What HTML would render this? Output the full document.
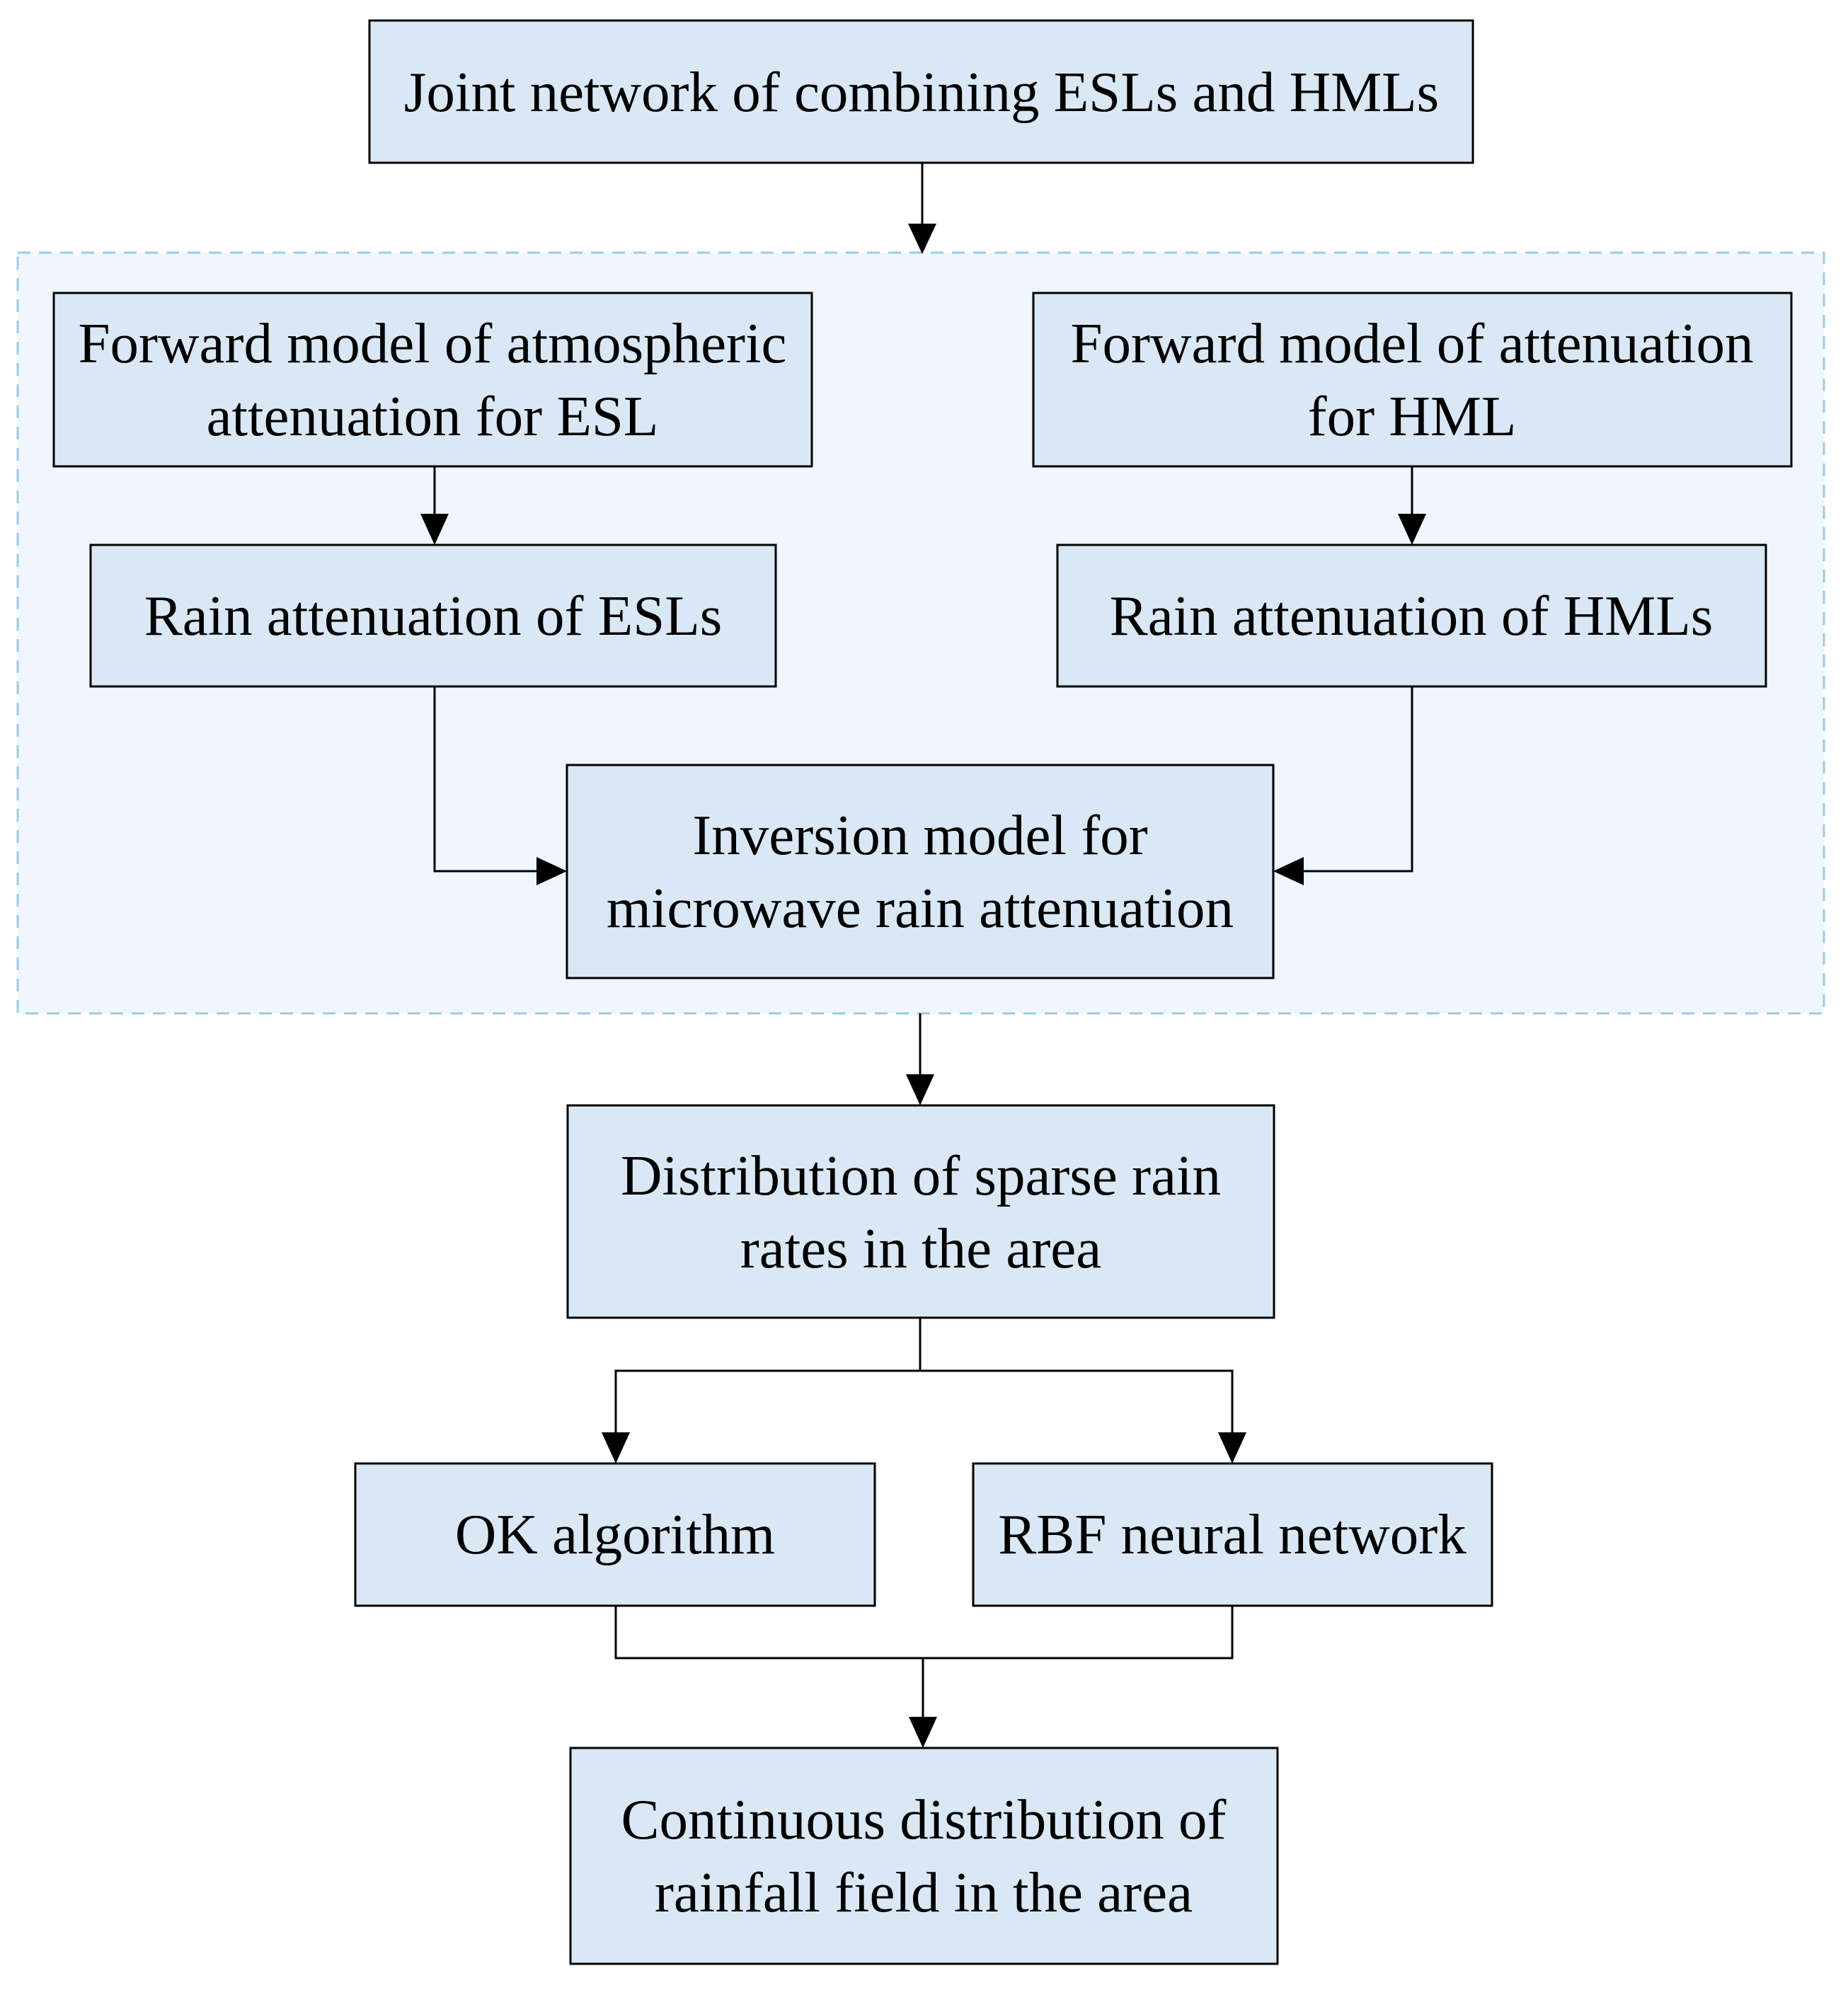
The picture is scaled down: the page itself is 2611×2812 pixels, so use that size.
<!DOCTYPE html>
<html><head><meta charset="utf-8"><style>
html,body{margin:0;padding:0;background:#fff;}
svg{display:block;}
text{font-family:"Liberation Serif","Times New Roman",serif;font-size:81px;fill:#000;}
</style></head><body>
<svg width="2611" height="2812" viewBox="0 0 2611 2812" xmlns="http://www.w3.org/2000/svg">
<g stroke="#000" stroke-width="3">
<rect x="25" y="357" width="2552" height="1075" fill="#eff6fd" stroke="#9ecae8" stroke-dasharray="18,12"/>
<rect x="522" y="29" width="1559" height="201" fill="#dae8f5"/>
<rect x="76" y="414" width="1071" height="245" fill="#dae8f5"/>
<rect x="1460" y="414" width="1071" height="245" fill="#dae8f5"/>
<rect x="128" y="770" width="968" height="200" fill="#dae8f5"/>
<rect x="1494" y="770" width="1001" height="200" fill="#dae8f5"/>
<rect x="801" y="1081" width="998" height="301" fill="#dae8f5"/>
<rect x="802" y="1562" width="998" height="300" fill="#dae8f5"/>
<rect x="502" y="2068" width="734" height="201" fill="#dae8f5"/>
<rect x="1375" y="2068" width="733" height="201" fill="#dae8f5"/>
<rect x="806" y="2470" width="999" height="305" fill="#dae8f5"/>
<g fill="none">
<line x1="1303" y1="230" x2="1303" y2="320"/>
<line x1="614" y1="659" x2="614" y2="730"/>
<line x1="1995" y1="659" x2="1995" y2="730"/>
<polyline points="614,970 614,1231 762,1231"/>
<polyline points="1995,970 1995,1231 1838,1231"/>
<line x1="1300" y1="1432" x2="1300" y2="1522"/>
<line x1="1300" y1="1862" x2="1300" y2="1937"/>
<polyline points="870,2028 870,1937 1741,1937 1741,2028"/>
<polyline points="870,2269 870,2343 1741,2343 1741,2269"/>
<line x1="1304" y1="2343" x2="1304" y2="2430"/>
</g>
</g>
<g fill="#000">
<polygon points="1283,316 1323,316 1303,359"/>
<polygon points="594,726 634,726 614,770"/>
<polygon points="1975,726 2015,726 1995,770"/>
<polygon points="758,1211 758,1251 801,1231"/>
<polygon points="1842,1211 1842,1251 1799,1231"/>
<polygon points="1280,1518 1320,1518 1300,1562"/>
<polygon points="850,2024 890,2024 870,2068"/>
<polygon points="1721,2024 1761,2024 1741,2068"/>
<polygon points="1284,2426 1324,2426 1304,2470"/>
</g>
<g text-anchor="middle">
<text x="1302" y="157">Joint network of combining ESLs and HMLs</text>
<text x="611" y="512">Forward model of atmospheric</text>
<text x="611" y="615">attenuation for ESL</text>
<text x="1995" y="512">Forward model of attenuation</text>
<text x="1995" y="615">for HML</text>
<text x="612" y="897">Rain attenuation of ESLs</text>
<text x="1994" y="897">Rain attenuation of HMLs</text>
<text x="1300" y="1207">Inversion model for</text>
<text x="1300" y="1310">microwave rain attenuation</text>
<text x="1301" y="1688">Distribution of sparse rain</text>
<text x="1301" y="1791">rates in the area</text>
<text x="869" y="2195">OK algorithm</text>
<text x="1741" y="2195">RBF neural network</text>
<text x="1305" y="2598">Continuous distribution of</text>
<text x="1305" y="2701">rainfall field in the area</text>
</g>
</svg>
</body></html>
